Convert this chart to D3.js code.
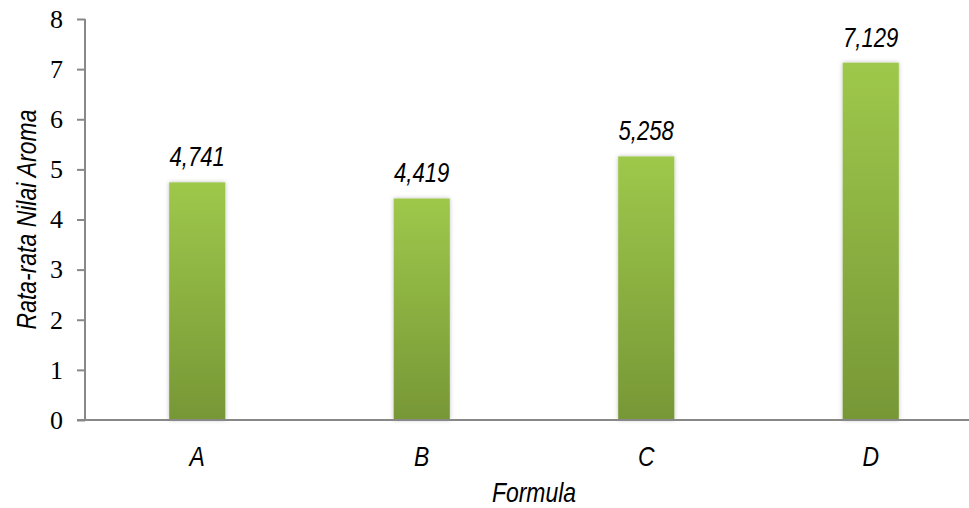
<!DOCTYPE html>
<html>
<head>
<meta charset="utf-8">
<script src="https://cdn.jsdelivr.net/npm/d3@7"></script>
<style>
  body { margin: 0; background: #fff; }
  .lbl { font-family: "Liberation Sans", Arial, sans-serif; font-style: italic; fill: #000; }
  .tick text { font-family: "Liberation Serif", "Times New Roman", serif; font-size: 26px; fill: #000; }
</style>
</head>
<body>
<div id="chart"></div>
<script>
var categories = ["A", "B", "C", "D"];
var values = [4.741, 4.419, 5.258, 7.129];
var yTicks = [0, 1, 2, 3, 4, 5, 6, 7, 8];
var xTitle = "Formula";
var yTitle = "Rata-rata Nilai Aroma";

var width = 969, height = 508;
var mLeft = 85, mRight = 983, mTop = 19, mBottom = 420;
var narrow = 0.82; // squeeze to look like Arial Narrow

var svg = d3.select("#chart").append("svg")
    .attr("width", width).attr("height", height);

var defs = svg.append("defs");
var grad = defs.append("linearGradient").attr("id", "barGrad")
    .attr("x1", 0).attr("y1", 0).attr("x2", 0).attr("y2", 1);
grad.append("stop").attr("offset", "0%").attr("stop-color", "#9ec84b");
grad.append("stop").attr("offset", "100%").attr("stop-color", "#779736");

var shadow = defs.append("filter").attr("id", "shadow")
    .attr("x", "-20%").attr("y", "-5%").attr("width", "140%").attr("height", "110%");
shadow.append("feDropShadow").attr("dx", 0).attr("dy", 0)
    .attr("stdDeviation", 2).attr("flood-color", "#000").attr("flood-opacity", 0.25);

var x = d3.scaleBand().domain(categories).range([mLeft, mRight])
    .paddingInner(0.75).paddingOuter(0.375);
var y = d3.scaleLinear().domain([0, 8]).range([mBottom, mTop]);

var fmt = d3.formatLocale({decimal: ",", thousands: ".", grouping: [3], currency: ["", ""]}).format(".3f");

// bars
svg.selectAll("rect.bar")
    .data(values)
    .enter().append("rect")
    .attr("class", "bar")
    .attr("x", function(d, i) { return x(categories[i]); })
    .attr("y", function(d) { return y(d); })
    .attr("width", x.bandwidth())
    .attr("height", function(d) { return y(0) - y(d); })
    .attr("fill", "url(#barGrad)")
    .attr("filter", "url(#shadow)");

// y axis
var yAxis = svg.append("g")
    .attr("transform", "translate(" + mLeft + ",0)")
    .call(d3.axisLeft(y).tickValues(yTicks).tickSize(8).tickPadding(14).tickFormat(d3.format("d")));
yAxis.selectAll("line, path").attr("stroke", "#888").attr("stroke-width", 2);
yAxis.select(".domain").attr("d", "M0," + mTop + "V" + mBottom);

// x axis
svg.append("line")
    .attr("x1", mLeft - 8).attr("x2", mRight)
    .attr("y1", mBottom).attr("y2", mBottom)
    .attr("stroke", "#888").attr("stroke-width", 2);

// category labels
svg.selectAll("text.cat")
    .data(categories)
    .enter().append("text")
    .attr("class", "lbl cat")
    .attr("transform", function(d) { return "translate(" + (x(d) + x.bandwidth() / 2) + ",466) scale(" + narrow + ",1)"; })
    .attr("text-anchor", "middle")
    .style("font-size", "28px")
    .text(function(d) { return d; });

// value labels
svg.selectAll("text.val")
    .data(values)
    .enter().append("text")
    .attr("class", "lbl val")
    .attr("transform", function(d, i) { return "translate(" + (x(categories[i]) + x.bandwidth() / 2) + "," + (y(d) - 16) + ") scale(" + narrow + ",1)"; })
    .attr("text-anchor", "middle")
    .style("font-size", "27px")
    .text(function(d) { return fmt(d); });

// titles
svg.append("text")
    .attr("class", "lbl")
    .attr("transform", "translate(" + (mLeft + mRight) / 2 + ",502) scale(" + narrow + ",1)")
    .attr("text-anchor", "middle")
    .style("font-size", "28px")
    .text(xTitle);

svg.append("text")
    .attr("class", "lbl")
    .attr("transform", "translate(36," + (mTop + mBottom) / 2 + ") rotate(-90) scale(" + narrow + ",1)")
    .attr("text-anchor", "middle")
    .style("font-size", "28px")
    .text(yTitle);
</script>
</body>
</html>
